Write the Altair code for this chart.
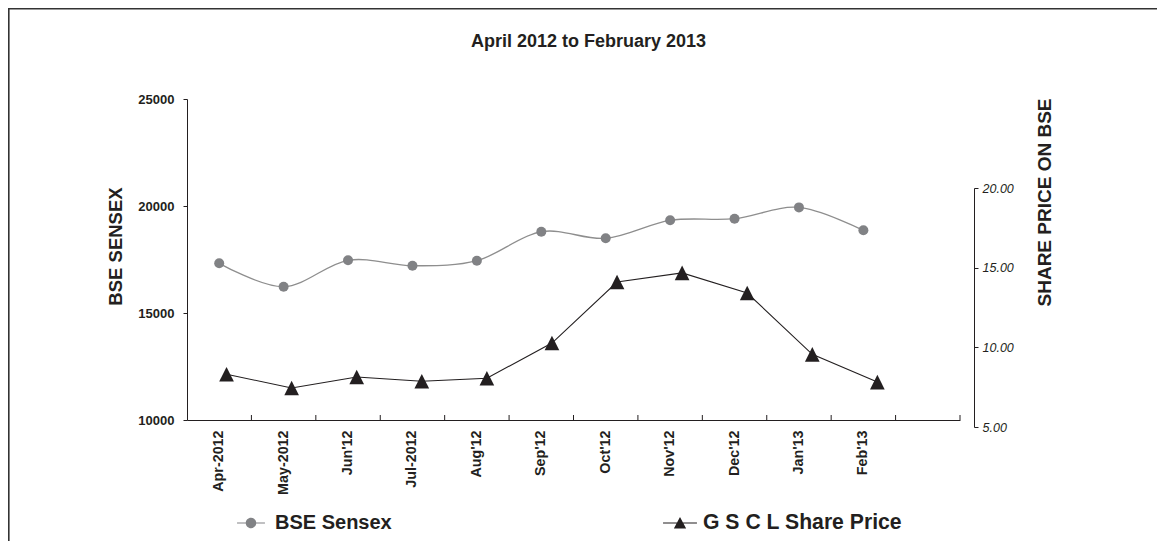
import altair as alt
import pandas as pd

# ---- data ----
months = ["Apr-2012", "May-2012", "Jun'12", "Jul-2012", "Aug'12", "Sep'12",
          "Oct'12", "Nov'12", "Dec'12", "Jan'13", "Feb'13"]
axis_slots = months + [" "]
sensex = [17322, 16229, 17463, 17210, 17444, 18799, 18490, 19330, 19407, 19935, 18863]
gscl = [8.31, 7.45, 8.14, 7.87, 8.06, 10.27, 14.10, 14.67, 13.41, 9.56, 7.82]
series_names = ["BSE Sensex", "G S C L Share Price"]
left_ticks = [10000, 15000, 20000, 25000]
right_ticks = [5, 10, 15, 20]
title_text = "April 2012 to February 2013"

FONT = "Liberation Sans"
INK = "#231f20"
GRAY = "#818285"
GRAYLINE = "#8e8e8e"

df = pd.DataFrame({"month": months, "sensex": sensex, "gscl": gscl})
slots_df = pd.DataFrame({"month": axis_slots})
legA_df = pd.DataFrame({"series": series_names[:1]})
legB_df = pd.DataFrame({"series": series_names[1:]})
frame_df = pd.DataFrame({"k": [0]})

W, H = 773, 321

x_scale1 = alt.Scale(type="band", domain=axis_slots, paddingInner=0, paddingOuter=0)
x_axis1 = alt.Axis(title=None, labelAngle=270, labelFont=FONT, labelFontSize=14.3,
                   labelFontWeight="bold", labelColor=INK, labelPadding=10,
                   ticks=False, tickSize=0, domainColor=INK, domainWidth=1,
                   grid=False, labelOverlap=False)

y_axis1 = alt.Axis(values=left_ticks, format="d", title="BSE SENSEX",
                   titleFont=FONT, titleFontSize=18.5, titleFontWeight="bold",
                   titleColor=INK, titleAngle=270, titleX=-72, titleY=147,
                   titleAlign="center", titleBaseline="middle",
                   labelFont=FONT, labelFontSize=13, labelFontWeight="bold",
                   labelColor=INK, labelPadding=9, tickSize=4, tickColor=INK,
                   domainColor=INK, grid=False)
y_scale1 = alt.Scale(domain=[10000, 25000], nice=False, zero=False)

X1 = alt.X("month:N", scale=x_scale1, bandPosition=0.5, axis=x_axis1)
Y1 = alt.Y("sensex:Q", scale=y_scale1, axis=y_axis1)

base1 = alt.Chart(df)
sensex_line = base1.mark_line(color=GRAYLINE, strokeWidth=1.3, interpolate="cardinal").encode(x=X1, y=Y1)
sensex_pts = base1.mark_circle(color=GRAY, size=100, opacity=1).encode(x=X1, y=Y1)
tick_rules = alt.Chart(slots_df).mark_rule(color=INK, strokeWidth=1).encode(
    x=alt.X("month:N", scale=x_scale1, bandPosition=1, axis=x_axis1),
    y=alt.value(H - 5), y2=alt.value(H),
)
layer1 = alt.layer(sensex_line, sensex_pts, tick_rules)

x_scale2 = alt.Scale(type="band", domain=axis_slots, range=[7, 788],
                     paddingInner=0, paddingOuter=0)
y_scale2 = alt.Scale(domain=[5, 20], range=[328, 89], nice=False, zero=False)
y_axis2 = alt.Axis(orient="right", offset=14, values=right_ticks, format=".2f",
                   title="SHARE PRICE ON BSE", titleFont=FONT, titleFontSize=19,
                   titleFontWeight="bold", titleColor=INK, titleAngle=270,
                   titleX=70, titleY=103, titleAlign="center", titleBaseline="middle",
                   labelFont=FONT, labelFontSize=12.5, labelFontStyle="italic",
                   labelFontWeight="normal", labelColor=INK, labelPadding=4,
                   tickSize=4, tickColor=INK, domainColor=INK, grid=False)
X2 = alt.X("month:N", scale=x_scale2, bandPosition=0.5, axis=None)
Y2 = alt.Y("gscl:Q", scale=y_scale2, axis=y_axis2)

base2 = alt.Chart(df)
gscl_line = base2.mark_line(color=INK, strokeWidth=1.1).encode(x=X2, y=Y2)
gscl_pts = base2.mark_point(shape="M0,-1L1,1L-1,1Z", filled=True, size=215,
                            color=INK, opacity=1).encode(x=X2, y=Y2)
layer2 = alt.layer(gscl_line, gscl_pts)

# legend glyphs: a thin bar (the line) plus the marker, filled only
circle_sym = ("M-0.93,-0.035L0.93,-0.035L0.93,0.035L-0.93,0.035Z"
              "M0.35,0A0.35,0.35,0,1,1,-0.35,0A0.35,0.35,0,1,1,0.35,0Z")
tri_sym = ("M-1.13,-0.035L1.13,-0.035L1.13,0.035L-1.13,0.035Z"
           "M0,-0.4L0.41,0.36L-0.41,0.36Z")


def make_legend(x, fill, size, label_offset):
    return alt.Legend(title=None, orient="none", legendX=x, legendY=409,
                      direction="horizontal", labelFont=FONT, labelFontSize=size,
                      labelFontWeight="bold", labelColor=INK, labelLimit=400,
                      symbolSize=900, symbolStrokeWidth=0, labelOffset=label_offset,
                      symbolOpacity=1, symbolFillColor=fill,
                      symbolStrokeColor="transparent")


legend_a = alt.Chart(legA_df).mark_point(filled=True, color=GRAY, opacity=0).encode(
    shape=alt.Shape("series:N", scale=alt.Scale(domain=series_names[:1], range=[circle_sym]),
                    legend=make_legend(49, GRAY, 20, 9)),
)
legend_b = alt.Chart(legB_df).mark_point(filled=True, color=INK, opacity=0).encode(
    shape=alt.Shape("series:N", scale=alt.Scale(domain=series_names[1:], range=[tri_sym]),
                    legend=make_legend(478, INK, 21.2, 8)),
)

frame = alt.Chart(frame_df).mark_rect(fill="transparent", stroke="#333333", strokeWidth=1.6).encode(
    x=alt.value(-178.2), y=alt.value(-90.2), x2=alt.value(1400), y2=alt.value(900),
)

chart = alt.layer(layer1, layer2, legend_a, legend_b, frame).resolve_scale(
    x="independent", y="independent", shape="independent"
).resolve_legend(shape="independent").properties(
    width=W, height=H,
    title=alt.TitleParams(title_text, font=FONT, fontSize=18, fontWeight="bold",
                          color=INK, anchor="middle", frame="group", dx=15,
                          offset=-52, baseline="middle"),
    padding={"left": 179, "top": 91, "right": 197, "bottom": 121},
    autosize=alt.AutoSizeParams(type="none"),
).configure(background="white").configure_view(strokeWidth=0)

chart.save("out.html", embed_options={"renderer": "svg", "actions": False})
